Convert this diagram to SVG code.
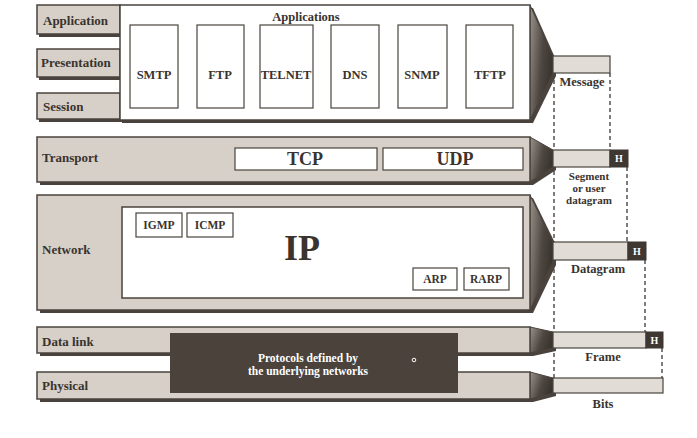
<svg xmlns="http://www.w3.org/2000/svg" width="697" height="438" viewBox="0 0 697 438">
<defs>
<linearGradient id="fun" x1="0" y1="0" x2="1" y2="0.4">
<stop offset="0" stop-color="#9a938c"/>
<stop offset="0.6" stop-color="#4e4741"/>
<stop offset="1" stop-color="#3a342f"/>
</linearGradient>
<style>
.frame{fill:#d6d0c9;stroke:#4a433d;stroke-width:1.5}
.shadow{fill:#4a433d}
.white{fill:#ffffff;stroke:#4a433d;stroke-width:1.5}
.box{fill:#ffffff;stroke:#4a433d;stroke-width:1.2}
.bar{fill:#e2dcd6;stroke:#4a433d;stroke-width:1.2}
.hbox{fill:#3e3732;stroke:#3e3732;stroke-width:1}
.fun{fill:url(#fun);stroke:#4a433d;stroke-width:1}
.dash{stroke:#3e3732;stroke-width:1.3;stroke-dasharray:4 3;fill:none}
text{font-family:"Liberation Serif","DejaVu Serif",serif;font-weight:bold;fill:#3a332e}
.lbl{font-size:13px}
.proto{font-size:12.5px;text-anchor:middle}
.big{font-size:18px;text-anchor:middle}
.mid{text-anchor:middle;font-size:12.5px}
.seg{text-anchor:middle;font-size:11px}
.h{font-size:10px;fill:#ffffff;text-anchor:middle}
.wt{fill:#ffffff;font-size:11.5px;text-anchor:middle}
</style>
</defs>
<rect width="697" height="438" fill="#ffffff"/>

<g id="connectors">
<line class="dash" x1="554" y1="73" x2="554" y2="378"/>
<line class="dash" x1="610" y1="73" x2="610" y2="150"/>
<line class="dash" x1="627" y1="167" x2="627" y2="242"/>
<line class="dash" x1="645" y1="260" x2="645" y2="332"/>
<line class="dash" x1="662" y1="348" x2="662" y2="378"/>
</g>

<g id="application">
<rect class="shadow" x="39" y="8" width="83" height="29"/>
<rect class="frame" x="37" y="5" width="83" height="29"/>
<text class="lbl" x="43" y="25">Application</text>
</g>
<g id="presentation">
<rect class="shadow" x="39" y="52" width="83" height="28"/>
<rect class="frame" x="37" y="49" width="83" height="28"/>
<text class="lbl" x="41" y="67">Presentation</text>
</g>
<g id="session">
<rect class="shadow" x="39" y="96" width="83" height="26"/>
<rect class="frame" x="37" y="93" width="83" height="26"/>
<text class="lbl" x="43" y="111">Session</text>
</g>

<g id="applications">
<polygon class="shadow" points="122,8 533,8 556,60 556,76 533,123 122,123"/>
<polygon class="fun" points="530,5 553,56 553,73 530,120"/>
<rect class="white" x="120" y="5" width="410" height="115"/>
<text class="mid" x="306" y="21">Applications</text>
<rect class="box" x="130" y="25" width="48" height="83"/>
<text class="proto" x="154" y="79">SMTP</text>
<rect class="box" x="197" y="25" width="47" height="83"/>
<text class="proto" x="220" y="79">FTP</text>
<rect class="box" x="260" y="25" width="53" height="83"/>
<text class="proto" x="286" y="79">TELNET</text>
<rect class="box" x="331" y="25" width="48" height="83"/>
<text class="proto" x="355" y="79">DNS</text>
<rect class="box" x="398" y="25" width="49" height="83"/>
<text class="proto" x="422" y="79">SNMP</text>
<rect class="box" x="466" y="25" width="47" height="83"/>
<text class="proto" x="490" y="79">TFTP</text>
</g>
<g id="message">
<rect class="bar" x="553" y="56" width="57" height="17"/>
<text class="mid" x="582" y="86">Message</text>
</g>

<g id="transport">
<polygon class="shadow" points="40,140 533,140 556,153 556,170 533,185 40,185"/>
<polygon class="fun" points="530,137 553,150 553,167 530,182"/>
<rect class="frame" x="37" y="137" width="493" height="45"/>
<text class="lbl" x="42" y="162">Transport</text>
<rect class="box" x="235" y="148" width="142" height="22"/>
<text class="big" x="305" y="165">TCP</text>
<rect class="box" x="383" y="148" width="140" height="22"/>
<text class="big" x="455" y="165">UDP</text>
</g>
<g id="segment">
<rect class="bar" x="553" y="150" width="57" height="17"/>
<rect class="hbox" x="610" y="150" width="18" height="17"/>
<text class="h" x="619" y="162">H</text>
<text class="seg" x="589" y="180">Segment</text>
<text class="seg" x="589" y="192">or user</text>
<text class="seg" x="589" y="204">datagram</text>
</g>

<g id="network">
<polygon class="shadow" points="40,198 533,198 556,245 556,265 533,313 40,313"/>
<polygon class="fun" points="530,195 553,242 553,261 530,310"/>
<rect class="frame" x="37" y="195" width="493" height="115"/>
<text class="lbl" x="42" y="254">Network</text>
<rect class="white" x="122" y="207" width="401" height="91"/>
<rect class="box" x="136" y="213" width="46" height="24"/>
<text class="proto" x="159" y="229" style="font-size:11.5px">IGMP</text>
<rect class="box" x="187" y="213" width="46" height="24"/>
<text class="proto" x="210" y="229" style="font-size:11.5px">ICMP</text>
<text x="302" y="260" style="font-size:36px;text-anchor:middle">IP</text>
<rect class="box" x="413" y="268" width="44" height="22"/>
<text class="proto" x="435" y="283" style="font-size:11.5px">ARP</text>
<rect class="box" x="464" y="268" width="45" height="22"/>
<text class="proto" x="486" y="283" style="font-size:11.5px">RARP</text>
</g>
<g id="datagram">
<rect class="bar" x="553" y="242" width="75" height="18"/>
<rect class="hbox" x="628" y="242" width="18" height="18"/>
<text class="h" x="637" y="255">H</text>
<text class="mid" x="598" y="273">Datagram</text>
</g>

<g id="datalink">
<polygon class="shadow" points="40,330 533,330 556,335 556,351 533,356 40,356"/>
<polygon class="fun" points="530,327 553,332 553,348 530,353"/>
<rect class="frame" x="37" y="327" width="493" height="26"/>
<text class="lbl" x="42" y="346">Data link</text>
</g>
<g id="physical">
<polygon class="shadow" points="40,375 533,375 556,381 556,396 533,402 40,402"/>
<polygon class="fun" points="530,372 553,378 553,393 530,399"/>
<rect class="frame" x="37" y="372" width="493" height="27"/>
<text class="lbl" x="42" y="390">Physical</text>
</g>
<g id="underlying">
<rect x="170" y="333" width="288" height="60" fill="#4a423b"/>
<text class="wt" x="308" y="362">Protocols defined by</text>
<text class="wt" x="308" y="375">the underlying networks</text>
<circle cx="414" cy="360" r="1.8" fill="none" stroke="#ffffff" stroke-width="1"/>
</g>
<g id="frame">
<rect class="bar" x="553" y="332" width="93" height="16"/>
<rect class="hbox" x="646" y="332" width="17" height="16"/>
<text class="h" x="654.5" y="344">H</text>
<text class="mid" x="603" y="361">Frame</text>
</g>
<g id="bits">
<rect class="bar" x="553" y="378" width="110" height="15"/>
<text class="mid" x="603" y="408">Bits</text>
</g>
</svg>
